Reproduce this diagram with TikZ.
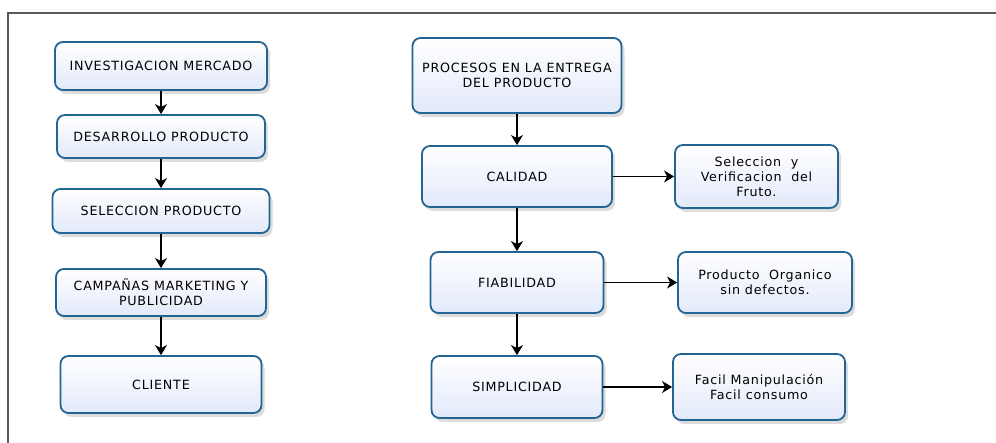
\documentclass[tikz,border=0pt]{standalone}
\usepackage{fontspec}
\setmainfont{DejaVu Sans}[LetterSpace=6]
\usetikzlibrary{arrows.meta,shadows}
\definecolor{bord}{RGB}{34,100,146}
\definecolor{fillb}{RGB}{226,233,250}
\definecolor{framec}{RGB}{90,90,90}
\begin{document}
\begin{tikzpicture}[x=1pt,y=-1pt,
  box/.style={draw=bord,line width=1.8pt,rounded corners=8pt,top color=white,bottom color=fillb,
    drop shadow={shadow xshift=3pt,shadow yshift=-4pt,opacity=0.28,fill=gray},
    align=center,font=\fontsize{12.7}{14.8}\selectfont,inner sep=0pt},
  arr/.style={-{Stealth[length=10pt,width=12pt,inset=3pt]},line width=1.3pt,black}]
\useasboundingbox (0,0) rectangle (996,443);
\draw[line width=1.4pt,framec] (8,443) -- (8,13) -- (996,13);
% left column
\node[box,minimum width=212pt,minimum height=48pt] (inv) at (161,66) {INVESTIGACION MERCADO};
\node[box,minimum width=208pt,minimum height=43pt] (des) at (161,136.5) {DESARROLLO PRODUCTO};
\node[box,minimum width=217pt,minimum height=44pt] (sel) at (161,211) {SELECCION PRODUCTO};
\node[box,minimum width=210pt,minimum height=47pt] (cam) at (161,292.5) {CAMPAÑAS MARKETING Y\\PUBLICIDAD};
\node[box,minimum width=201pt,minimum height=57pt] (cli) at (161,384.5) {CLIENTE};
% right column
\node[box,minimum width=209pt,minimum height=75pt] (pro) at (517,75.5) {PROCESOS EN LA ENTREGA\\DEL PRODUCTO};
\node[box,minimum width=190pt,minimum height=61pt] (cal) at (517,176.5) {CALIDAD};
\node[box,minimum width=173pt,minimum height=61pt] (fia) at (517,282.5) {FIABILIDAD};
\node[box,minimum width=171pt,minimum height=62pt] (sim) at (517,387) {SIMPLICIDAD};
\node[box,minimum width=163pt,minimum height=63pt] (sv) at (756.5,176.5) {Seleccion\ \ y\\Verificacion\ \ del\\Fruto.};
\node[box,minimum width=174pt,minimum height=61pt] (po) at (765,282.5) {Producto\ \ Organico\\sin defectos.};
\node[box,minimum width=172pt,minimum height=66pt] (fm) at (759,387) {Facil Manipulación\\Facil consumo};
% connectors
\draw[arr] (inv) -- (des);
\draw[arr] (des) -- (sel);
\draw[arr] (sel) -- (cam);
\draw[arr] (cam) -- (cli);
\draw[arr] (pro) -- (cal);
\draw[arr] (cal) -- (fia);
\draw[arr] (fia) -- (sim);
\draw[arr] (cal) -- (sv);
\draw[arr] (fia) -- (po);
\draw[arr] (sim) -- (fm);
\end{tikzpicture}
\end{document}
